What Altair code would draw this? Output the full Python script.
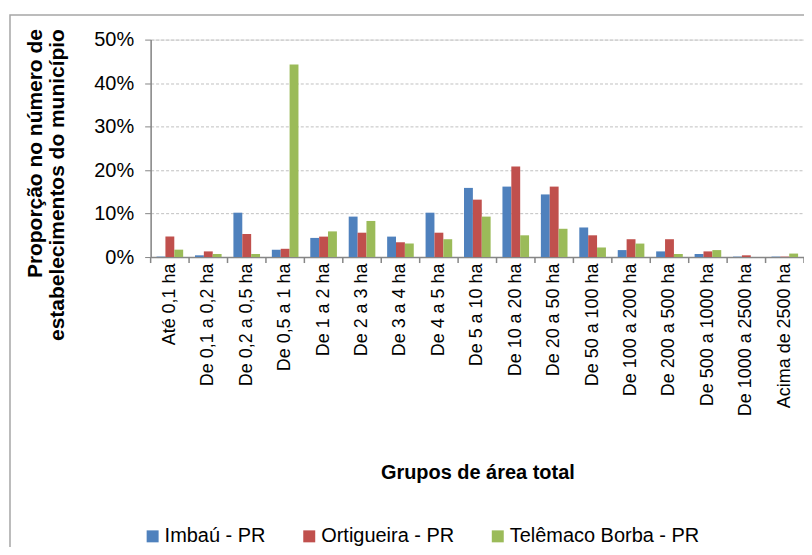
import altair as alt
import pandas as pd

categorias = ["Até 0,1 ha", "De 0,1 a 0,2 ha", "De 0,2 a 0,5 ha", "De 0,5 a 1 ha",
              "De 1 a 2 ha", "De 2 a 3 ha", "De 3 a 4 ha", "De 4 a 5 ha",
              "De 5 a 10 ha", "De 10 a 20 ha", "De 20 a 50 ha", "De 50 a 100 ha",
              "De 100 a 200 ha", "De 200 a 500 ha", "De 500 a 1000 ha",
              "De 1000 a 2500 ha", "Acima de 2500 ha"]

series = ["Imbaú - PR", "Ortigueira - PR", "Telêmaco Borba - PR"]
imbau = [0.1, 0.4, 10.2, 1.7, 4.4, 9.3, 4.7, 10.2, 15.9, 16.2, 14.4, 6.8, 1.6, 1.3, 0.7, 0.1, 0.1]
ortigueira = [4.7, 1.3, 5.3, 1.9, 4.7, 5.6, 3.4, 5.6, 13.2, 20.8, 16.2, 5.0, 4.1, 4.1, 1.3, 0.4, 0.1]
telemaco = [1.7, 0.7, 0.7, 44.3, 5.9, 8.3, 3.1, 4.1, 9.3, 5.0, 6.5, 2.2, 3.1, 0.7, 1.6, 0.0, 0.8]
cores = ["#4F81BD", "#C0504D", "#9BBB59"]

rows = []
for nome, vals in zip(series, [imbau, ortigueira, telemaco]):
    for c, v in zip(categorias, vals):
        rows.append({"cat": c, "serie": nome, "valor": v / 100})
df = pd.DataFrame(rows)

FONT = "Arial, 'Liberation Sans', sans-serif"
W, H = 655, 218

x_scale = alt.Scale(domain=categorias, paddingInner=0, paddingOuter=0)

bars = alt.Chart(df).mark_bar().encode(
    x=alt.X("cat:N", scale=x_scale, sort=categorias,
            axis=alt.Axis(title="Grupos de área total", labelAngle=-90, labelFontSize=18,
                          labelFont=FONT, labelColor="#000000", labelPadding=6,
                          ticks=False, domainColor="#868686", domainWidth=1.5,
                          titleFont=FONT, titleFontSize=20, titleFontWeight="bold",
                          titleColor="#000000", titleY=216, titleBaseline="middle",
                          labelLimit=300)),
    xOffset=alt.XOffset("serie:N", sort=series,
                        scale=alt.Scale(paddingInner=0, paddingOuter=0.665)),
    y=alt.Y("valor:Q", scale=alt.Scale(domain=[0, 0.5], nice=False),
            axis=alt.Axis(title=["Proporção no número de", "estabelecimentos do município"],
                          format=".0%", values=[0, 0.1, 0.2, 0.3, 0.4, 0.5],
                          labelFont=FONT, labelFontSize=20, labelColor="#000000",
                          labelPadding=11, tickSize=6, tickColor="#868686",
                          domainColor="#868686", domainWidth=1.5,
                          grid=True, gridColor="#c0c0c0", gridDash=[3, 2], gridWidth=1,
                          titleFont=FONT, titleFontSize=21, titleFontWeight="bold",
                          titleColor="#000000", titleAngle=270, titleAlign="right",
                          titleBaseline="top", titleX=-126, titleY=-11,
                          titleLineHeight=22)),
    color=alt.Color("serie:N", sort=series,
                    scale=alt.Scale(domain=series, range=cores),
                    legend=alt.Legend(orient="none", legendX=-8, legendY=488,
                                      direction="horizontal", title=None,
                                      symbolType="square", symbolSize=144,
                                      symbolStrokeWidth=0, labelFont=FONT,
                                      labelFontSize=20, labelColor="#000000",
                                      columnPadding=33, labelOffset=2,
                                      labelLimit=400)),
)

tick_df = pd.DataFrame({"cat": categorias})
ticks = alt.Chart(tick_df).mark_rule(color="#868686", strokeWidth=1.5).encode(
    x=alt.X("cat:N", bandPosition=0, scale=x_scale, sort=categorias),
    y=alt.value(H),
    y2=alt.value(H + 6),
)
ticks_end = alt.Chart(pd.DataFrame({"cat": [categorias[-1]]})).mark_rule(
    color="#868686", strokeWidth=1.5).encode(
    x=alt.X("cat:N", bandPosition=1, scale=x_scale, sort=categorias),
    y=alt.value(H),
    y2=alt.value(H + 6),
)

border = alt.Chart(pd.DataFrame({"a": [0]})).mark_rect(
    fillOpacity=0, stroke="#a6a6a6", strokeWidth=1.5).encode(
    x=alt.value(-141), x2=alt.value(680), y=alt.value(-24.7), y2=alt.value(580)
)

chart = alt.layer(border, bars, ticks, ticks_end).properties(
    width=W, height=H,
    autosize=alt.AutoSizeParams(type="none"),
    padding={"left": 143, "top": 31, "right": 0, "bottom": 290},
).configure_view(stroke=None).configure(background="white")

chart.save("out.html", embed_options={"renderer": "svg", "actions": False})
